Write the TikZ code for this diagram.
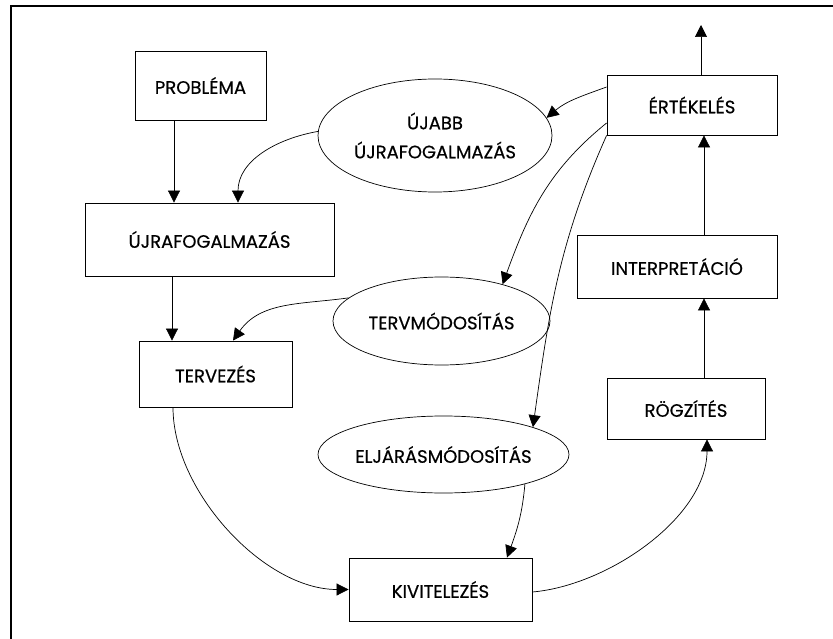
\documentclass[tikz,border=0pt]{standalone}
\usepackage{fontspec}
\setmainfont{Poppins}[FakeBold = 0.5]
\usetikzlibrary{arrows.meta,shapes.geometric}
\tikzstyle{pixelGrid} = [x = 1pt, y = -1pt]
\tikzstyle{frameLine} = [line width = 2.2pt]
\tikzstyle{stepBox} = [draw, rectangle, line width = .8pt, inner sep = 0pt, font = \fontsize{18}{20}\selectfont]
\tikzstyle{changeEllipse} = [draw, ellipse, line width = .7pt, inner sep = 0pt, align = center, font = \fontsize{18}{29}\selectfont]
\tikzstyle{flowArrow} = [line width = .7pt, -{Triangle[length = 12pt, width = 12pt]}]
\newcommand{\stepNode}[6]{\node [stepBox, minimum width = #4pt, minimum height = #5pt] (#1) at (#2, #3) {#6};}
\newcommand{\changeNode}[6]{\node [changeEllipse, minimum width = #4pt, minimum height = #5pt] (#1) at (#2, #3) {#6};}

\begin{document}
\begin{tikzpicture}[pixelGrid]
  \useasboundingbox (0, 0) rectangle (833, 639);
  \draw [frameLine] (11, 639) -- (11, 6) -- (833, 6);

  \stepNode{problema}{200.5}{85.5}{131}{69}{PROBLÉMA}
  \stepNode{ujra}{209.5}{239.5}{249}{73}{ÚJRAFOGALMAZÁS}
  \stepNode{tervezes}{215.5}{374}{153}{66}{TERVEZÉS}
  \stepNode{kiv}{440.5}{589.5}{183}{63}{KIVITELEZÉS}
  \stepNode{rog}{686}{408.5}{158}{61}{RÖGZÍTÉS}
  \stepNode{interp}{677}{266.5}{200}{63}{INTERPRETÁCIÓ}
  \stepNode{ert}{692}{105}{170}{60}{ÉRTÉKELÉS}

  \changeNode{ujabb}{435}{135.5}{234}{113}{ÚJABB\\ÚJRAFOGALMAZÁS}
  \changeNode{tervmod}{441.5}{321}{217}{88}{TERVMÓDOSÍTÁS}
  \changeNode{elj}{443.5}{454.5}{251}{77}{ELJÁRÁSMÓDOSÍTÁS}

  \coordinate (exitEnd) at (701, 25);

  \draw [flowArrow] ([xshift = -26.5pt]problema.south) -- ([xshift = -35.5pt]ujra.north);
  \draw [flowArrow] (ujabb.178) to [out = 190, in = 90] ([xshift = 28.5pt]ujra.north);
  \draw [flowArrow] ([yshift = 18pt]ert.west) to [out = 200, in = 40] (ujabb.9);
  \draw [flowArrow] ([yshift = -18pt]ert.west) to [out = 219, in = 70] (tervmod.31);
  \draw [flowArrow] (ert.south west) to [out = 246, in = 82] (elj.17);
  \draw [flowArrow] (tervmod.166) to [out = 188, in = 55] ([xshift = 17.5pt]tervezes.north);
  \draw [flowArrow] ([xshift = -37.5pt]ujra.south) -- ([xshift = -43.5pt]tervezes.north);
  \draw [flowArrow] ([xshift = -42.5pt]tervezes.south) to [out = -90, in = 180, looseness = .85] (kiv.west);
  \draw [flowArrow] (elj.340) to [out = -95, in = 70] ([xshift = 66.5pt]kiv.north);
  \draw [flowArrow] ([yshift = -2.5pt]kiv.east) to [out = 5, in = -90, looseness = .85] ([xshift = 21pt]rog.south);
  \draw [flowArrow] ([xshift = 18pt]rog.north) -- ([xshift = 27pt]interp.south);
  \draw [flowArrow] ([xshift = 27pt]interp.north) -- ([xshift = 12pt]ert.south);
  \draw [flowArrow] ([xshift = 9pt]ert.north) -- (exitEnd);
\end{tikzpicture}
\end{document}
